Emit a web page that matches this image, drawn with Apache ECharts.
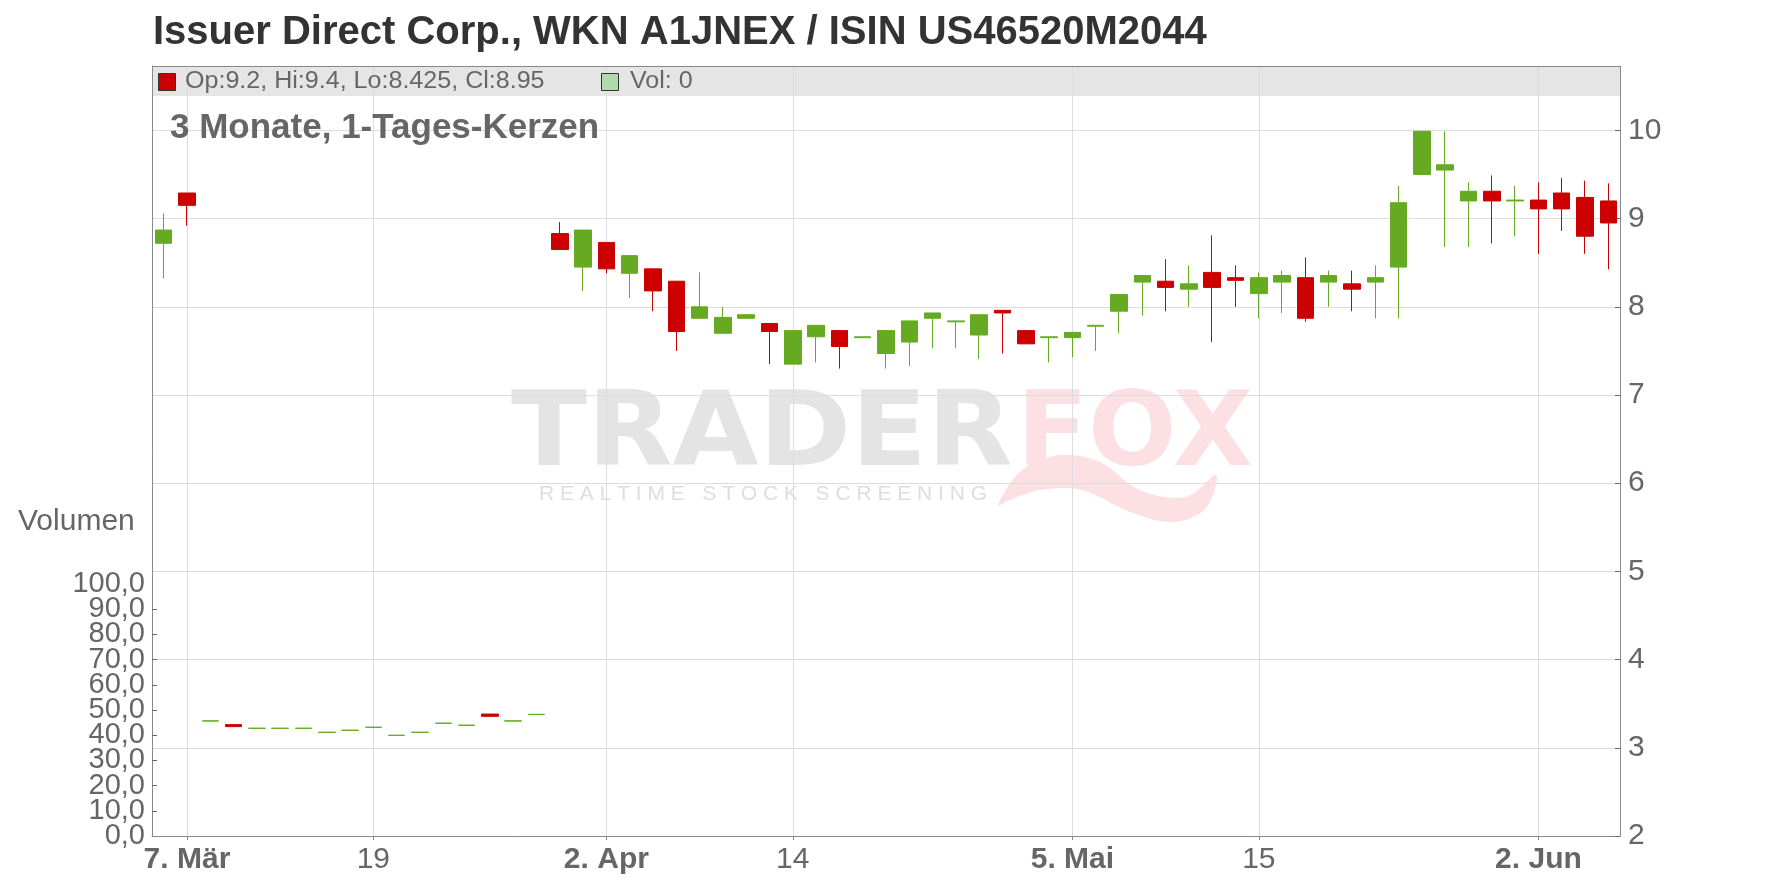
<!DOCTYPE html>
<html>
<head>
<meta charset="utf-8">
<script src="https://cdn.jsdelivr.net/npm/echarts@6.0.0/dist/echarts.min.js"></script>
<style>
  html, body { margin: 0; padding: 0; background: #ffffff; }
  #chart { width: 1776px; height: 888px; }
</style>
</head>
<body>
<div id="chart"></div>
<script>
// ---------- data ----------
// trading-day slots on the category axis (63 slots)
const slotCount = 63;
// x-axis tick labels: slot index, text, bold?
const tickIdx  = [1, 9, 19, 27, 39, 47, 59];
const tickText = ['7. Mär', '19', '2. Apr', '14', '5. Mai', '15', '2. Jun'];
const tickBold = [true, false, true, false, true, false, true];

// price candles (right axis)
const priceDays = [0, 1, 17, 18, 19, 20, 21, 22, 23, 24, 25, 26, 27, 28, 29, 30, 31, 32, 33, 34, 35, 36, 37, 38, 39, 40,
                   41, 42, 43, 44, 45, 46, 47, 48, 49, 50, 51, 52, 53, 54, 55, 56, 57, 58, 59, 60, 61, 62];
const priceOpen  = [8.72, 9.29, 8.83, 8.45, 8.73, 8.38, 8.43, 8.29, 7.87, 7.70, 7.87, 7.81, 7.35, 7.66, 7.73, 7.65, 7.47, 7.60, 7.87, 7.83, 7.68, 7.96, 7.73, 7.65, 7.65, 7.78,
                    7.95, 8.28, 8.29, 8.20, 8.39, 8.33, 8.15, 8.28, 8.33, 8.28, 8.26, 8.28, 8.45, 9.50, 9.55, 9.20, 9.31, 9.20, 9.21, 9.29, 9.24, 9.20];
const priceClose = [8.87, 9.15, 8.65, 8.87, 8.43, 8.58, 8.18, 7.72, 8.00, 7.88, 7.91, 7.72, 7.73, 7.79, 7.55, 7.66, 7.73, 7.84, 7.93, 7.84, 7.91, 7.93, 7.58, 7.66, 7.71, 7.79,
                    8.14, 8.355, 8.22, 8.26, 8.22, 8.30, 8.33, 8.355, 7.87, 8.355, 8.20, 8.33, 9.18, 9.99, 9.61, 9.31, 9.20, 9.21, 9.11, 9.11, 8.80, 8.95];
const priceLow   = [8.32, 8.92, 8.65, 8.18, 8.38, 8.10, 7.95, 7.50, 7.87, 7.70, 7.87, 7.35, 7.35, 7.37, 7.30, 7.65, 7.30, 7.33, 7.53, 7.53, 7.41, 7.47, 7.58, 7.37, 7.43, 7.50,
                    7.70, 7.90, 7.95, 8.00, 7.60, 8.00, 7.87, 7.93, 7.83, 8.00, 7.95, 7.87, 7.87, 9.50, 8.68, 8.68, 8.72, 8.80, 8.60, 8.86, 8.60, 8.425];
const priceHigh  = [9.06, 9.29, 8.96, 8.87, 8.73, 8.58, 8.43, 8.29, 8.39, 8.00, 7.91, 7.81, 7.73, 7.79, 7.73, 7.66, 7.73, 7.84, 7.93, 7.84, 7.91, 7.96, 7.73, 7.66, 7.71, 7.79,
                    8.14, 8.355, 8.54, 8.47, 8.81, 8.47, 8.39, 8.41, 8.56, 8.41, 8.41, 8.47, 9.37, 9.99, 9.99, 9.41, 9.49, 9.37, 9.41, 9.46, 9.43, 9.40];

// volume marks (left axis)
const volDays  = [2, 3, 4, 5, 6, 7, 8, 9, 10, 11, 12, 13, 14, 15, 16];
const volOpen  = [45.6, 44.2, 42.7, 42.7, 42.7, 41.1, 41.9, 43.1, 39.9, 41.1, 44.7, 43.9, 48.4, 45.6, 48.2];
const volClose = [45.7, 43.4, 42.8, 42.8, 42.8, 41.2, 42.0, 43.2, 40.0, 41.2, 44.8, 44.0, 47.5, 45.7, 48.3];

// axis ranges
const priceMin = 2, priceMax = 10.73, priceStep = 1;
const volMin = 0, volMax = 100, volStep = 10;

// ---------- build ----------
const categories = [];
for (let i = 0; i < slotCount; i++) categories.push('d' + i);

function buildCandles(days, o, c, l, h) {
  const arr = new Array(slotCount).fill('-');
  days.forEach((d, k) => { arr[d] = [o[k], c[k], l[k], h[k]]; });
  return arr;
}
const priceData = buildCandles(priceDays, priceOpen, priceClose, priceLow, priceHigh);
const volData = buildCandles(volDays, volOpen, volClose,
  volOpen.map((v, k) => Math.min(v, volClose[k])), volOpen.map((v, k) => Math.max(v, volClose[k])));

const GREEN = '#66aa22', RED = '#cc0000';
const FONT = 'Liberation Sans';
const showTick = (index) => tickIdx.indexOf(index) >= 0;
const volFmt = (v) => v.toFixed(1).replace('.', ',');

const chart = echarts.init(document.getElementById('chart'), null, { renderer: 'canvas' });

const option = {
  animation: false,
  backgroundColor: '#ffffff',
  textStyle: { fontFamily: FONT },
  grid: [
    { left: 152, right: 156, top: 66, bottom: 52 },
    { left: 152, right: 156, top: 584, bottom: 52 }
  ],
  xAxis: [
    {
      type: 'category', gridIndex: 0, data: categories, boundaryGap: true,
      axisLine: { onZero: false, lineStyle: { color: '#888888', width: 1 } },
      axisTick: { show: true, interval: showTick, alignWithLabel: true, length: 4, lineStyle: { color: '#888888' } },
      axisLabel: {
        interval: showTick, margin: 9, fontSize: 30, color: '#666666', fontFamily: FONT,
        formatter: function (v, index) {
          const k = tickIdx.indexOf(index);
          if (k < 0) return '';
          return tickBold[k] ? '{b|' + tickText[k] + '}' : tickText[k];
        },
        rich: { b: { fontWeight: 'bold', fontSize: 30, color: '#666666', fontFamily: FONT } }
      },
      splitLine: { show: true, interval: showTick, alignWithLabel: true, lineStyle: { color: '#dddddd', width: 1 } }
    },
    {
      type: 'category', gridIndex: 1, data: categories, boundaryGap: true, show: false
    }
  ],
  yAxis: [
    {
      type: 'value', gridIndex: 0, position: 'right', min: priceMin, max: priceMax, interval: priceStep,
      axisLine: { show: true, onZero: false, lineStyle: { color: '#888888' } },
      axisTick: { show: true, inside: true, length: 5, lineStyle: { color: '#666666' } },
      axisLabel: { margin: 8, fontSize: 30, color: '#666666', fontFamily: FONT, showMaxLabel: false, showMinLabel: true,
        formatter: function (v) { return Math.abs(v - Math.round(v)) < 1e-6 ? String(Math.round(v)) : ''; } },
      splitLine: { show: true, lineStyle: { color: '#dddddd', width: 1 } }
    },
    {
      type: 'value', gridIndex: 0, position: 'left', min: 0, max: 1,
      axisLine: { show: true, onZero: false, lineStyle: { color: '#888888' } },
      axisTick: { show: false }, axisLabel: { show: false }, splitLine: { show: false }
    },
    // volume axis: even labels (0,0 / 20,0 / ... / 100,0)
    {
      type: 'value', gridIndex: 1, position: 'left', min: volMin, max: volMax, interval: volStep * 2,
      axisLine: { show: true, onZero: false, lineStyle: { color: '#888888' } },
      axisTick: { show: false },
      axisLabel: { margin: 7, fontSize: 29, color: '#666666', fontFamily: FONT, showMinLabel: true, showMaxLabel: true,
        formatter: volFmt },
      splitLine: { show: false }
    },
    // volume axis: odd labels (10,0 / 30,0 / ... / 90,0) and all ticks
    {
      type: 'value', gridIndex: 1, position: 'left', min: volMin, max: volMax, interval: volStep,
      axisLine: { show: false, onZero: false },
      axisTick: { show: true, inside: true, length: 5, lineStyle: { color: '#666666' } },
      axisLabel: { margin: 7, fontSize: 29, color: '#666666', fontFamily: FONT, showMinLabel: false, showMaxLabel: false,
        formatter: function (v) { return (Math.round(v / volStep) % 2 === 1) ? volFmt(v) : ''; } },
      splitLine: { show: false }
    }
  ],
  series: [
    {
      type: 'candlestick', name: 'Kurs', xAxisIndex: 0, yAxisIndex: 0, data: priceData,
      barWidth: 17, z: 3,
      itemStyle: { color: GREEN, color0: RED, borderColor: GREEN, borderColor0: RED, borderWidth: 1 }
    },
    {
      type: 'candlestick', name: 'Volumen', xAxisIndex: 1, yAxisIndex: 2, data: volData,
      barWidth: 17, z: 3,
      itemStyle: { color: GREEN, color0: RED, borderColor: GREEN, borderColor0: RED, borderWidth: 1 }
    }
  ],
  graphic: [
    // legend band
    { type: 'rect', z: -1, shape: { x: 152, y: 66, width: 1468, height: 30 }, style: { fill: '#e5e5e5' } },
    { type: 'line', z: 50, shape: { x1: 152, y1: 66.5, x2: 1620, y2: 66.5 }, style: { stroke: '#888888', lineWidth: 1 } },
    // watermark
    { type: 'text', z: -1, x: 511, y: 438, scaleX: 1.07, style: { text: 'TRADER', fontFamily: 'DejaVu Sans', fontWeight: 'bold', fontSize: 104, fill: '#e4e4e4', textVerticalAlign: 'middle' } },
    { type: 'text', z: -1, x: 1017, y: 438, style: { text: 'FOX', fontFamily: 'DejaVu Sans', fontWeight: 'bold', fontSize: 104, fill: '#fde0e4', textVerticalAlign: 'middle' } },
    { type: 'polygon', z: -1, shape: { smooth: 0.35, points: [[998, 505], [1022, 470], [1060, 455], [1100, 462], [1140, 490], [1186, 497], [1216, 475], [1206, 508], [1174, 522], [1130, 512], [1082, 490], [1040, 490], [1012, 499]] }, style: { fill: '#fde0e4' } },
    { type: 'text', z: -1, x: 539, y: 494, style: { text: 'R E A L T I M E   S T O C K   S C R E E N I N G', fontFamily: FONT, fontSize: 21, fill: '#dedede', textVerticalAlign: 'middle' } },
    // title
    { type: 'text', z: 100, x: 153, y: 33, style: { text: 'Issuer Direct Corp., WKN A1JNEX / ISIN US46520M2044', fontFamily: FONT, fontWeight: 'bold', fontSize: 40, fill: '#333333', textVerticalAlign: 'middle' } },
    // legend entries
    { type: 'rect', z: 100, shape: { x: 158.5, y: 73.5, width: 17, height: 17 }, style: { fill: RED, stroke: '#333333', lineWidth: 1 } },
    { type: 'text', z: 100, x: 185, y: 82, scaleX: 1.09, style: { text: 'Op:9.2, Hi:9.4, Lo:8.425, Cl:8.95', fontFamily: FONT, fontSize: 23, fill: '#666666', textVerticalAlign: 'middle' } },
    { type: 'rect', z: 100, shape: { x: 601.5, y: 73.5, width: 17, height: 17 }, style: { fill: '#addcaa', stroke: '#333333', lineWidth: 1 } },
    { type: 'text', z: 100, x: 630, y: 82, scaleX: 1.09, style: { text: 'Vol: 0', fontFamily: FONT, fontSize: 23, fill: '#666666', textVerticalAlign: 'middle' } },
    // subtitle
    { type: 'text', z: 100, x: 170, y: 128, style: { text: '3 Monate, 1-Tages-Kerzen', fontFamily: FONT, fontWeight: 'bold', fontSize: 35, fill: '#666666', textVerticalAlign: 'middle' } },
    // volume axis name
    { type: 'text', z: 100, x: 18, y: 522, style: { text: 'Volumen', fontFamily: FONT, fontSize: 30, fill: '#666666', textVerticalAlign: 'middle' } }
  ]
};
chart.setOption(option);
</script>
</body>
</html>
